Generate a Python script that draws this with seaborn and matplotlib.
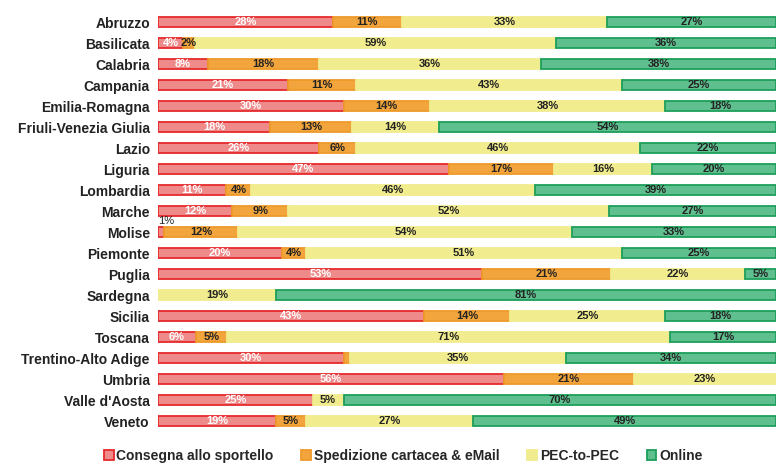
import matplotlib
matplotlib.use("Agg")
import matplotlib.pyplot as plt
from matplotlib.patches import Patch
import numpy as np
import pandas as pd
import seaborn as sns

regions = ["Abruzzo", "Basilicata", "Calabria", "Campania", "Emilia-Romagna",
           "Friuli-Venezia Giulia", "Lazio", "Liguria", "Lombardia", "Marche",
           "Molise", "Piemonte", "Puglia", "Sardegna", "Sicilia", "Toscana",
           "Trentino-Alto Adige", "Umbria", "Valle d'Aosta", "Veneto"]

consegna = [28, 4, 8, 21, 30, 18, 26, 47, 11, 12, 1, 20, 53, 0, 43, 6, 30, 56, 25, 19]
spedizione = [11, 2, 18, 11, 14, 13, 6, 17, 4, 9, 12, 4, 21, 0, 14, 5, 1, 21, 0, 5]
pec = [33, 59, 36, 43, 38, 14, 46, 16, 46, 52, 54, 51, 22, 19, 25, 71, 35, 23, 5, 27]
online = [27, 36, 38, 25, 18, 54, 22, 20, 39, 27, 33, 25, 5, 81, 18, 17, 34, 0, 70, 49]

series_names = ["Consegna allo sportello", "Spedizione cartacea & eMail",
                "PEC-to-PEC", "Online"]
face_colors = ["#ee8a8a", "#f2a53c", "#f1ec8e", "#5fbf8e"]
edge_colors = ["#e62a2c", "#ee9a2a", "#f1ec8e", "#1c9e5a"]
text_colors = ["white", "#222222", "#222222", "#222222"]

# labels not printed in the original
hidden = {("Trentino-Alto Adige", 1)}

sns.set_theme(style="white")
plt.rcParams["font.family"] = ["Liberation Sans", "DejaVu Sans"]

fig = plt.figure(figsize=(7.83, 4.67), dpi=100)
ax = fig.add_axes([0.202, 0.076, 0.789, 0.899])

values = np.array([consegna, spedizione, pec, online], dtype=float)
shares = values / values.sum(axis=0) * 100
lefts = np.vstack([np.zeros(len(regions)), np.cumsum(shares, axis=0)[:-1]])

for k in range(4):
    df = pd.DataFrame({"region": regions, "share": shares[k]})
    sns.barplot(data=df, x="share", y="region", orient="y", left=lefts[k],
                color=face_colors[k], edgecolor=edge_colors[k], linewidth=1.3,
                width=0.5, errorbar=None, ax=ax, saturation=1)

for p in ax.patches:
    if p.get_width() == 0:
        p.set_visible(False)

for k in range(4):
    for i, r in enumerate(regions):
        v = values[k][i]
        if v == 0 or (r, k) in hidden:
            continue
        if shares[k][i] < 1.5:
            ax.text(lefts[k][i], i - 0.55, f"{int(v)}%", ha="left", va="center",
                    fontsize=8, color="#222222")
        else:
            ax.text(lefts[k][i] + shares[k][i] / 2, i, f"{int(v)}%", ha="center",
                    va="center", fontsize=8, fontweight="bold", color=text_colors[k])

ax.set_xlim(0, 100)
ax.set_xlabel("")
ax.set_ylabel("")
ax.set_xticks([])
ax.tick_params(axis="y", length=0, pad=6)
for lab in ax.get_yticklabels():
    lab.set_fontweight("bold")
    lab.set_fontsize(10)
    lab.set_color("#222222")
sns.despine(ax=ax, left=True, bottom=True)

handles = [Patch(facecolor=face_colors[k], edgecolor=edge_colors[k], linewidth=1.3)
           for k in range(4)]
fig.legend(handles, series_names, loc="center", bbox_to_anchor=(0.515, 0.024),
           ncol=4, frameon=False, handlelength=0.7, handleheight=0.7,
           handletextpad=0.2, columnspacing=2.0,
           prop={"weight": "bold", "size": 10})

fig.savefig("out.png", dpi=100)
